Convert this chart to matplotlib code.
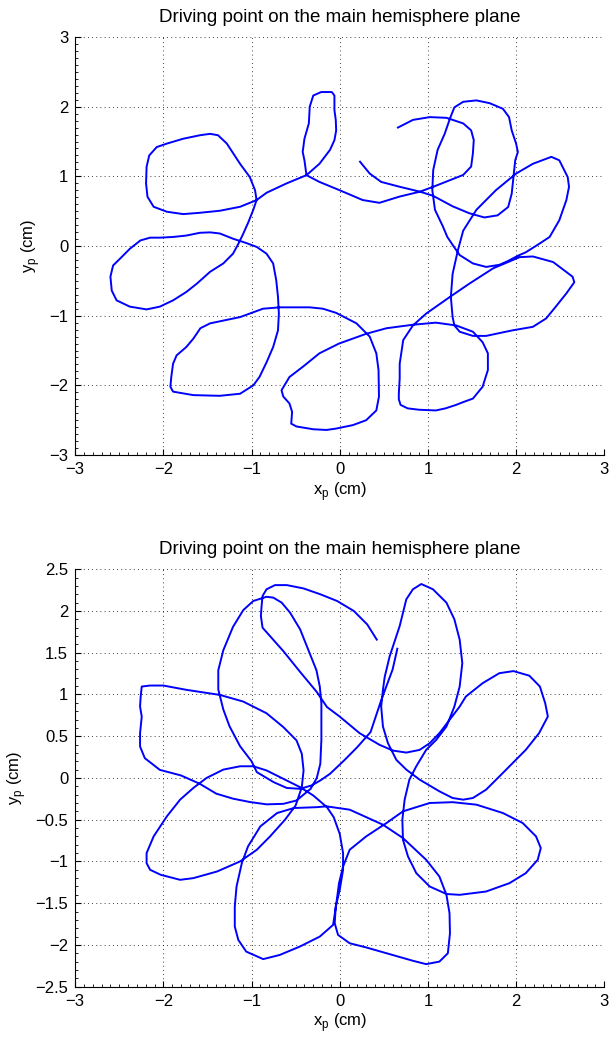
import numpy as np
import matplotlib
matplotlib.use("Agg")
import matplotlib.pyplot as plt
from matplotlib.ticker import MultipleLocator, FuncFormatter

plt.rcParams['font.family'] = ['Liberation Sans', 'DejaVu Sans']

# Top panel: driving point path (cm)
top_x = [0.66, 0.83, 1.02, 1.21, 1.40, 1.49, 1.52, 1.51, 1.49, 1.40, 1.28, 1.06, 0.91, 0.68, 0.45, 0.26, 0.0, -0.23, -0.377,
         -0.40, -0.42, -0.40, -0.35, -0.34, -0.30, -0.21, -0.09, -0.06, -0.06, -0.045, -0.04, -0.06, -0.11, -0.23, -0.377,
         -0.604, -0.83, -0.943, -1.13, -1.36, -1.585, -1.774, -1.96, -2.11, -2.18, -2.196, -2.19, -2.16, -2.075, -1.96, -1.774,
         -1.585, -1.47, -1.38, -1.28, -1.13, -1.02, -0.96, -0.943, -0.98, -1.04, -1.10, -1.15,
         -1.21, -1.32, -1.47, -1.62, -1.74, -1.89, -2.04, -2.19, -2.38, -2.53, -2.585, -2.60, -2.57, -2.49, -2.38, -2.26, -2.15,
         -2.04, -1.89, -1.74, -1.585, -1.47, -1.36, -1.21, -1.06, -0.94, -0.83, -0.755, -0.72, -0.70, -0.69,
         -0.70, -0.755, -0.83, -0.91, -0.98, -1.13, -1.36, -1.66, -1.89, -1.92, -1.91, -1.89, -1.85, -1.74, -1.66, -1.58, -1.47,
         -1.28, -1.13, -0.98, -0.87, -0.68, -0.53, -0.34, -0.19, -0.04,
         0.19, 0.34, 0.415, 0.44, 0.445, 0.415, 0.30, 0.15, -0.04, -0.15, -0.30, -0.49, -0.55, -0.54, -0.57, -0.64, -0.66, -0.57,
         -0.415, -0.23, -0.008, 0.30, 0.53, 0.83, 1.09, 1.32, 1.51, 1.62, 1.68, 1.68, 1.62, 1.51, 1.40, 1.32, 1.20, 1.09, 0.90,
         0.77, 0.69, 0.67, 0.67, 0.68, 0.68, 0.72, 0.83, 0.98, 1.25, 1.47, 1.74, 2.04,
         2.19, 2.42, 2.64, 2.66, 2.57, 2.45, 2.34, 2.19, 1.96, 1.66, 1.51, 1.36, 1.30, 1.28, 1.26, 1.28, 1.34, 1.40,
         1.43, 1.55, 1.77, 2.0, 2.19, 2.40, 2.49, 2.585, 2.60, 2.57, 2.49, 2.38, 2.26, 2.11, 2.02, 1.90, 1.81, 1.66, 1.51, 1.36,
         1.30, 1.22, 1.17,
         1.08, 1.05, 1.06, 1.11, 1.19, 1.25, 1.30, 1.40, 1.55, 1.70, 1.85, 1.92, 1.95, 2.0, 2.02, 1.99, 1.97, 1.95, 1.91, 1.79,
         1.64, 1.47, 1.28, 1.06, 0.91, 0.68, 0.47, 0.34, 0.23]
top_y = [1.70, 1.81, 1.85, 1.84, 1.76, 1.66, 1.52, 1.33, 1.14, 1.02, 0.96, 0.85, 0.78, 0.71, 0.62, 0.66, 0.80, 0.92, 1.017,
         1.23, 1.35, 1.54, 1.76, 2.0, 2.16, 2.21, 2.21, 2.16, 1.95, 1.81, 1.66, 1.52, 1.38, 1.18, 1.017,
         0.898, 0.764, 0.659, 0.563, 0.506, 0.477, 0.458, 0.492, 0.563, 0.707, 0.898, 1.137, 1.30, 1.42, 1.47, 1.54,
         1.59, 1.61, 1.59, 1.47, 1.18, 0.99, 0.80, 0.659, 0.52, 0.33, 0.16, 0.03,
         -0.11, -0.25, -0.37, -0.54, -0.66, -0.78, -0.87, -0.91, -0.87, -0.78, -0.64, -0.44, -0.28, -0.18, -0.04, 0.08, 0.12,
         0.12, 0.13, 0.15, 0.19, 0.196, 0.18, 0.105, 0.043, -0.014, -0.11, -0.25, -0.49, -0.73, -0.97,
         -1.21, -1.45, -1.67, -1.88, -2.0, -2.12, -2.15, -2.14, -2.09, -2.02, -1.88, -1.69, -1.57, -1.45, -1.33, -1.18, -1.11,
         -1.06, -1.02, -0.95, -0.90, -0.88, -0.88, -0.88, -0.90, -0.96,
         -1.11, -1.30, -1.54, -1.78, -2.16, -2.36, -2.50, -2.57, -2.62, -2.64, -2.63, -2.59, -2.55, -2.38, -2.26, -2.16, -2.07, -1.88,
         -1.73, -1.54, -1.40, -1.26, -1.18, -1.13, -1.10, -1.14, -1.23, -1.38, -1.54, -1.78, -2.02, -2.19, -2.24, -2.28, -2.33, -2.36, -2.35,
         -2.33, -2.28, -2.20, -2.12, -1.90, -1.69, -1.35, -1.14, -0.97, -0.73, -0.54, -0.32, -0.16,
         -0.15, -0.23, -0.44, -0.52, -0.68, -0.87, -1.04, -1.16, -1.21, -1.29, -1.29, -1.23, -1.14, -1.02, -0.73, -0.40, -0.06, 0.22,
         0.28, 0.52, 0.80, 1.04, 1.18, 1.28, 1.23, 0.99, 0.85, 0.66, 0.37, 0.13, 0.03, -0.09, -0.14, -0.22, -0.27, -0.30, -0.25, -0.13,
         -0.02, 0.13, 0.28,
         0.52, 0.80, 1.09, 1.38, 1.61, 1.83, 1.99, 2.07, 2.09, 2.05, 1.97, 1.85, 1.66, 1.47, 1.35, 1.23, 0.99, 0.75, 0.56, 0.44,
         0.41, 0.47, 0.57, 0.72, 0.78, 0.85, 0.92, 1.04, 1.21]

# Bottom panel
bot_x = [0.653, 0.60, 0.53, 0.47, 0.35, 0.20, 0.05, -0.11, -0.22, -0.32, -0.45, -0.60, -0.75, -0.94, -1.0,
         -1.13, -1.25, -1.32, -1.377, -1.377, -1.32, -1.21, -1.094, -0.98, -0.83, -0.753, -0.658, -0.563, -0.449, -0.34,
         -0.264, -0.226, -0.208, -0.208, -0.208, -0.22, -0.26, -0.33, -0.41, -0.49, -0.64, -0.83, -1.02, -1.21, -1.40, -1.59,
         -1.80, -2.04, -2.21, -2.264, -2.264, -2.245, -2.264, -2.257, -2.245, -2.15, -2.0, -1.736, -1.36, -1.094, -0.83,
         -0.64, -0.49, -0.43, -0.41, -0.43, -0.50, -0.62, -0.79, -0.94, -1.13, -1.39, -1.66, -1.81, -2.03, -2.15, -2.19, -2.19,
         -2.11, -1.96, -1.81, -1.66, -1.51, -1.32, -1.13, -0.98, -0.83, -0.64, -0.45, -0.30, -0.145, -0.068, 0.0, 0.038,
         0.038, 0.0, -0.045, -0.057, -0.019, 0.113, 0.30, 0.60, 0.83, 0.98, 1.13, 1.226, 1.25, 1.245, 1.21, 1.13, 0.98,
         0.717, 0.49, 0.113, -0.151, -0.26, -0.52, -0.71, -0.90, -1.04, -1.11, -1.17, -1.19, -1.19, -1.15, -1.06, -0.868,
         -0.68, -0.453, -0.226, -0.075, -0.038, -0.008, 0.038, 0.113, 0.30, 0.53, 0.717, 1.02, 1.28, 1.55, 1.85, 2.075,
         2.226, 2.28, 2.245, 2.11, 1.925, 1.66, 1.36, 1.21, 1.02, 0.868, 0.774, 0.717, 0.71, 0.736, 0.79, 0.868, 0.98,
         1.094, 1.21, 1.30, 1.36, 1.39, 1.36, 1.30, 1.21, 1.057, 0.925, 0.83, 0.755, 0.717, 0.68, 0.623, 0.566, 0.51,
         0.49, 0.47, 0.49, 0.547, 0.642, 0.755, 0.906, 1.13, 1.28, 1.40, 1.51, 1.66, 1.85, 2.0, 2.11, 2.26, 2.36, 2.33,
         2.27, 2.15, 1.97, 1.81, 1.62, 1.43, 1.36, 1.245, 1.13, 1.02, 0.906, 0.755, 0.604, 0.453, 0.226, 0.0, -0.145,
         -0.26, -0.449, -0.64, -0.79, -0.875, -0.894, -0.886, -0.875, -0.83, -0.734, -0.60, -0.41, -0.22, -0.03, 0.16,
         0.312, 0.42]
bot_y = [1.548, 1.30, 1.10, 0.93, 0.55, 0.37, 0.21, 0.05, -0.03, -0.09, -0.13, -0.12, -0.05, 0.07, 0.20,
         0.38, 0.62, 0.82, 1.06, 1.29, 1.53, 1.81, 2.01, 2.12, 2.17, 2.16, 2.10, 1.98, 1.78, 1.49,
         1.29, 1.095, 0.895, 0.696, 0.456, 0.17, 0.0, -0.13, -0.20, -0.27, -0.31, -0.316, -0.288, -0.248, -0.188, -0.068,
         0.03, 0.097, 0.237, 0.376, 0.536, 0.735, 0.855, 0.975, 1.095, 1.107, 1.107, 1.055, 0.995, 0.915, 0.775,
         0.61, 0.45, 0.29, 0.09, -0.11, -0.33, -0.50, -0.70, -0.86, -1.0, -1.12, -1.20, -1.22, -1.16, -1.10, -1.02, -0.90,
         -0.70, -0.46, -0.26, -0.12, 0.0, 0.10, 0.14, 0.14, 0.09, -0.01, -0.11, -0.21, -0.35, -0.47, -0.67, -0.90,
         -1.10, -1.34, -1.54, -1.74, -1.88, -1.98, -2.03, -2.12, -2.19, -2.23, -2.20, -2.10, -1.86, -1.62, -1.40, -1.18, -0.98,
         -0.72, -0.56, -0.38, -0.34, -0.35, -0.36, -0.42, -0.58, -0.82, -1.02, -1.30, -1.54, -1.78, -1.94, -2.08, -2.17,
         -2.12, -2.02, -1.90, -1.76, -1.50, -1.26, -1.06, -0.86, -0.70, -0.54, -0.40, -0.30, -0.29, -0.32, -0.42, -0.54,
         -0.70, -0.84, -0.98, -1.14, -1.26, -1.36, -1.40, -1.39, -1.30, -1.14, -0.94, -0.74, -0.50, -0.26, -0.02, 0.14, 0.336,
         0.456, 0.616, 0.855, 1.095, 1.375, 1.657, 1.90, 2.10, 2.26, 2.323, 2.26, 2.14, 1.98, 1.82, 1.637, 1.456, 1.21,
         1.055, 0.855, 0.616, 0.416, 0.217, 0.10, -0.02, -0.16, -0.24, -0.26, -0.24, -0.14, 0.06, 0.22, 0.337, 0.536, 0.736, 0.895,
         1.095, 1.225, 1.28, 1.255, 1.135, 0.975, 0.855, 0.696, 0.536, 0.416, 0.336, 0.304, 0.328, 0.396, 0.536, 0.735, 0.85,
         1.03, 1.27, 1.52, 1.70, 1.80, 1.94, 2.06, 2.18, 2.26, 2.31, 2.31, 2.27, 2.20, 2.12, 2.0,
         1.839, 1.657]

title = "Driving point on the main hemisphere plane"


def tick_fmt(v, pos):
    # MATLAB-like labels: no trailing zeros, real minus sign
    return ('%g' % v).replace('-', '\u2212')


fig = plt.figure(figsize=(6.16, 10.42), dpi=100)
ax1 = fig.add_axes([0.122, 0.5633, 0.859, 0.4012])
ax2 = fig.add_axes([0.122, 0.0531, 0.859, 0.4006])

for ax, xs, ys in [(ax1, top_x, top_y), (ax2, bot_x, bot_y)]:
    ax.plot(xs, ys, color='#0000ff', lw=1.4)
    ax.set_xlim(-3, 3)
    ax.xaxis.set_major_locator(MultipleLocator(1))
    ax.set_title(title, fontsize=13.5, pad=11)
    ax.set_xlabel(r'x$_\mathregular{p}$ (cm)', fontsize=12, labelpad=2)
    ax.set_ylabel(r'y$_\mathregular{p}$ (cm)', fontsize=12, labelpad=5)
    ax.grid(True, linestyle=(0, (1, 4)), color='black', lw=0.6)
    ax.spines['top'].set_visible(False)
    ax.spines['right'].set_visible(False)
    ax.tick_params(direction='in', length=4, labelsize=12, top=False, right=False, pad=5)
    ax.tick_params(which='minor', direction='in', length=2)
    ax.xaxis.set_major_formatter(FuncFormatter(tick_fmt))
    ax.yaxis.set_major_formatter(FuncFormatter(tick_fmt))

ax1.set_ylim(-3, 3)
ax1.yaxis.set_major_locator(MultipleLocator(1))
ax1.xaxis.set_minor_locator(MultipleLocator(0.1))
ax1.yaxis.set_minor_locator(MultipleLocator(0.1))
ax2.set_ylim(-2.5, 2.5)
ax2.yaxis.set_major_locator(MultipleLocator(0.5))
ax2.xaxis.set_minor_locator(MultipleLocator(0.1))
ax2.yaxis.set_minor_locator(MultipleLocator(0.1))

fig.savefig("out.png", dpi=100)
